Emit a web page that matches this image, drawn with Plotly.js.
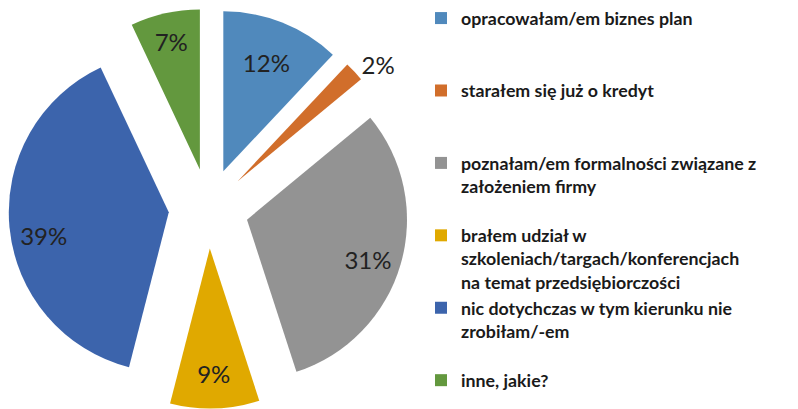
<!DOCTYPE html>
<html>
<head>
<meta charset="utf-8">
<script src="https://cdn.plot.ly/plotly-3.0.1.min.js"></script>
<style>html,body{margin:0;padding:0;background:#fff;}#chart{width:798px;height:409px;}</style>
</head>
<body>
<div id="chart"></div>
<script>
// Data
var labels = [
  "opracowałam/em biznes plan",
  "starałem się już o kredyt",
  "poznałam/em formalności związane z<br>założeniem firmy",
  "brałem udział w<br>szkoleniach/targach/konferencjach<br>na temat przedsiębiorczości",
  "nic dotychczas w tym kierunku nie<br>zrobiłam/-em",
  "inne, jakie?"
];
var legendPad = ["<br> <br> ", "<br> <br> ", "<br> ", "", "<br> ", ""];
var values = [12, 2, 31, 9, 39, 7];
var colors = ["#5089BC", "#D16E2B", "#939393", "#E0A900", "#3C64AC", "#63983E"];
var textPositions = ["inside", "outside", "inside", "inside", "inside", "inside"];

var NB = "\u00A0";
function rep(n){ return new Array(n + 1).join(NB); }
// label placement padding (whitespace only) to nudge labels like the original
var textTemplates = [
  "%{percent}",
  "%{percent}",
  NB + "<br>" + rep(12) + "%{percent}",
  "%{percent}",
  NB + "<br>" + "%{percent}" + rep(14),
  "%{percent}"
];

var trace = {
  type: "pie",
  labels: labels.map(function(l, i){ return l + legendPad[i]; }),
  values: values,
  sort: false,
  direction: "clockwise",
  rotation: 0,
  pull: 0.25,
  marker: {colors: colors, line: {width: 0}},
  texttemplate: textTemplates,
  textposition: textPositions,
  insidetextorientation: "horizontal",
  textfont: {family: "Lato, 'Open Sans', sans-serif", size: 24, color: "#222"},
  insidetextfont: {family: "Lato, 'Open Sans', sans-serif", size: 24, color: "#222"},
  outsidetextfont: {family: "Lato, 'Open Sans', sans-serif", size: 24, color: "#222"},
  domain: {x: [0.01078, 0.5120], y: [0.0012, 0.9792]},
  hoverinfo: "label+percent"
};

var layout = {
  width: 798,
  height: 409,
  margin: {l: 0, r: 0, t: 0, b: 0},
  paper_bgcolor: "#ffffff",
  showlegend: true,
  legend: {
    x: 0.5276,
    xanchor: "left",
    y: 1.0,
    yanchor: "top",
    valign: "top",
    traceorder: "normal",
    font: {family: "Lato, 'Open Sans', sans-serif", size: 17.8, color: "#1a1a1a", weight: 700},
    bgcolor: "rgba(0,0,0,0)"
  }
};

Plotly.newPlot("chart", [trace], layout, {displayModeBar: false, staticPlot: true});
</script>
</body>
</html>
